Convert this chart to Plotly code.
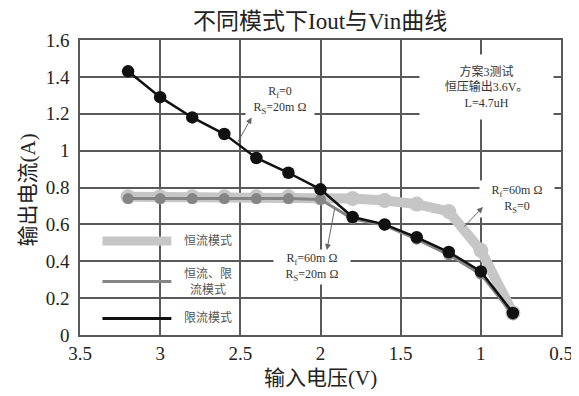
import plotly.graph_objects as go

# ---- data ----
vin = [3.2, 3.0, 2.8, 2.6, 2.4, 2.2, 2.0, 1.8, 1.6, 1.4, 1.2, 1.0, 0.8]
iout_cc = [0.75, 0.75, 0.75, 0.75, 0.75, 0.75, 0.745, 0.74, 0.73, 0.71, 0.67, 0.46, 0.12]      # 恒流模式
iout_cc_cl = [0.74, 0.74, 0.74, 0.74, 0.74, 0.74, 0.735, 0.63, 0.595, 0.52, 0.435, 0.33, 0.11]  # 恒流、限流模式
iout_cl = [1.43, 1.29, 1.18, 1.09, 0.96, 0.88, 0.79, 0.64, 0.60, 0.53, 0.45, 0.345, 0.12]      # 限流模式

series_names = ["恒流模式", "恒流、限<br>流模式", "限流模式"]
x_ticks = [3.5, 3, 2.5, 2, 1.5, 1, 0.5]
y_ticks = [0, 0.2, 0.4, 0.6, 0.8, 1, 1.2, 1.4, 1.6]

title_text = "不同模式下Iout与Vin曲线"
x_title = "输入电压(V)"
y_title = "输出电流(A)"

FONT = "'Times New Roman', 'Liberation Serif', 'Noto Sans CJK SC', serif"
GRID = "#5a5a5a"
C_LIGHT = "#c6c6c6"
C_MID = "#858585"
C_BLACK = "#111111"

fig = go.Figure()
fig.add_trace(go.Scatter(x=vin, y=iout_cc, mode="lines+markers", name="恒流模式",
                         line=dict(color=C_LIGHT, width=10),
                         marker=dict(color=C_LIGHT, size=15), showlegend=False))
fig.add_trace(go.Scatter(x=vin, y=iout_cc_cl, mode="lines+markers", name="恒流、限流模式",
                         line=dict(color=C_MID, width=3),
                         marker=dict(color=C_MID, size=11), showlegend=False))
fig.add_trace(go.Scatter(x=vin, y=iout_cl, mode="lines+markers", name="限流模式",
                         line=dict(color=C_BLACK, width=2.5),
                         marker=dict(color=C_BLACK, size=12.5), showlegend=False))

# manual legend (inside plot, lower left)
legend_y = [0.51, 0.29, 0.09]
legend_styles = [(C_LIGHT, 9), (C_MID, 3), (C_BLACK, 3)]
for name, ly, (col, w) in zip(series_names, legend_y, legend_styles):
    fig.add_shape(type="line", xref="x", yref="y", x0=3.36, x1=2.93, y0=ly, y1=ly,
                  line=dict(color=col, width=w), layer="above")
    fig.add_annotation(x=2.70, y=ly, xref="x", yref="y", text=name, showarrow=False,
                       font=dict(family=FONT, size=12, color="#555555"))

ann_font = dict(family=FONT, size=12, color="#333333")
# text boxes
fig.add_annotation(x=2.253, y=1.274, text="R<sub>f</sub>=0<br>R<sub>S</sub>=20m Ω",
                   showarrow=False, bgcolor="white", width=66, height=34, font=ann_font)
fig.add_annotation(x=0.776, y=0.735, text="R<sub>f</sub>=60m Ω<br>R<sub>S</sub>=0",
                   showarrow=False, bgcolor="white", width=72, height=34, font=ann_font)
fig.add_annotation(x=2.054, y=0.369, text="R<sub>f</sub>=60m Ω<br>R<sub>S</sub>=20m Ω",
                   showarrow=False, bgcolor="white", width=74, height=32, font=ann_font)
fig.add_annotation(x=0.963, y=1.345, text="方案3测试<br>恒压输出3.6V。<br>L=4.7uH",
                   showarrow=False, bgcolor="white", width=131, height=62, font=ann_font)

# arrows (tail on curve -> head at label)
arrows = [((2.52, 1.04), (2.43, 1.18)),
          ((1.112, 0.58), (0.987, 0.694)),
          ((1.91, 0.694), (1.96, 0.461))]
for (tx, ty), (hx, hy) in arrows:
    fig.add_annotation(x=hx, y=hy, ax=tx, ay=ty, xref="x", yref="y", axref="x", ayref="y",
                       text="", showarrow=True, arrowhead=2, arrowsize=1.2, arrowwidth=1,
                       arrowcolor="#666666")

# axis titles as annotations for exact placement
fig.add_annotation(xref="paper", yref="paper", x=-0.108, y=0.49, text=y_title, textangle=-90,
                   xanchor="center", yanchor="middle",
                   showarrow=False, font=dict(family=FONT, size=21, color="#222222"))
fig.add_annotation(xref="paper", yref="paper", x=0.499, y=-0.146, text=x_title,
                   xanchor="center", yanchor="middle",
                   showarrow=False, font=dict(family=FONT, size=21, color="#222222"))

fig.update_layout(
    width=579, height=396,
    margin=dict(l=72, r=26, t=32, b=69),
    paper_bgcolor="white", plot_bgcolor="white",
    font=dict(family=FONT, color="#222222"),
    title=dict(text=title_text, x=0.539, xanchor="center", y=0.968, yanchor="middle",
               font=dict(family=FONT, size=23, color="#222222")),
)
fig.update_xaxes(range=[3.5, 0.5], tickvals=x_ticks, showgrid=True, gridcolor=GRID, gridwidth=1.5,
                 showline=True, linecolor=GRID, linewidth=1.5, mirror=True, zeroline=False,
                 automargin=False, ticks="", ticklen=0,
                 tickfont=dict(family=FONT, size=19, color="#222222"))
fig.update_yaxes(range=[0, 1.6], tickvals=y_ticks, showgrid=True, gridcolor=GRID, gridwidth=1.5,
                 showline=True, linecolor=GRID, linewidth=1.5, mirror=True, zeroline=False,
                 automargin=False, ticks="", ticklen=0, ticklabelstandoff=5,
                 tickfont=dict(family=FONT, size=19, color="#222222"))

fig.write_html("out.html")
